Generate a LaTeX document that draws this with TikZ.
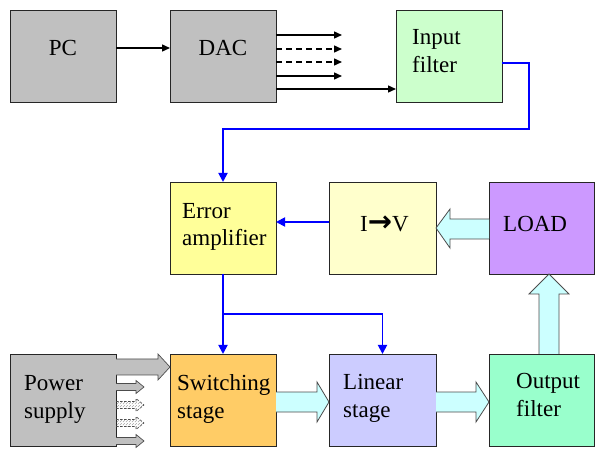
\documentclass[tikz,border=0pt]{standalone}
\usepackage{fontspec}
\setmainfont{Liberation Serif}
\newfontfamily\arrowglyph{DejaVu Sans Bold}
\usetikzlibrary{arrows.meta,calc,patterns}
\definecolor{boxgray}{HTML}{C0C0C0}
\definecolor{inputgreen}{HTML}{CCFFCC}
\definecolor{erryellow}{HTML}{FFFF99}
\definecolor{ivyellow}{HTML}{FFFFCC}
\definecolor{loadpurple}{HTML}{CC99FF}
\definecolor{switchorange}{HTML}{FFCC66}
\definecolor{linlavender}{HTML}{CCCCFF}
\definecolor{outmint}{HTML}{99FFCC}
\definecolor{flowcyan}{HTML}{CCFFFF}
\definecolor{linkblue}{HTML}{0000FF}

% rightward block arrow: tail, tip, half shaft, half head, head length
\newcommand\blockarrowh[6][]{%
  \draw[blk,#1] ($(#2)+(0,-#4)$) -- ($(#3)+(-#6,-#4)$) -- ($(#3)+(-#6,-#5)$) -- (#3)
    -- ($(#3)+(-#6,#5)$) -- ($(#3)+(-#6,#4)$) -- ($(#2)+(0,#4)$);}

\begin{document}
\begin{tikzpicture}[x=1pt,y=-1pt,
  box/.style={draw=black!85, line width=0.8pt, minimum width=106pt, minimum height=92pt,
    inner sep=0pt, outer sep=0pt},
  lbl/.style={font=\fontsize{23}{27.5}\selectfont, inner sep=0pt, align=left},
  blk/.style={draw=black!70, fill=flowcyan, line width=0.8pt, line join=miter},
  psarrow/.style={draw=black!70, fill=boxgray, line width=0.7pt, line join=miter},
  hatcharrow/.style={draw=black!70, dashed, dash pattern=on 2.5pt off 1.5pt,
    pattern=north east lines, pattern color=black!35, line width=0.6pt},
  dacline/.style={draw=black, line width=1.4pt, -{Triangle[length=8pt,width=7pt]}},
  blueline/.style={draw=linkblue, line width=1.8pt, line join=miter,
    -{Triangle[length=9pt,width=9pt]}},
]
\useasboundingbox (0,0) rectangle (595,449);

% ---- blocks ----
\node[box, fill=boxgray]      (pc)   at (63,56)    {};
\node[box, fill=boxgray]      (dac)  at (223,56)   {};
\node[box, fill=inputgreen]   (inf)  at (449,56)   {};
\node[box, fill=erryellow]    (err)  at (223,228)  {};
\node[box, fill=ivyellow, minimum width=107pt] (iv) at (382.5,228) {};
\node[box, fill=loadpurple, minimum width=105pt] (load) at (541.5,228) {};
\node[box, fill=boxgray]      (pwr)  at (63,400)   {};
\node[box, fill=switchorange] (sw)   at (223,400)  {};
\node[box, fill=linlavender, minimum width=107pt] (lin) at (382.5,400) {};
\node[box, fill=outmint, minimum width=105pt] (out) at (541.5,400) {};

% ---- labels ----
\node[lbl] (pct)  at ($(pc.center)+(0,-8)$)  {PC};
\node[lbl] (dact) at ($(dac.center)+(0,-8)$) {DAC};
\node[lbl, anchor=north west] (inft) at ($(inf.north west)+(16,19.5)$) {Input\\filter};
\node[lbl, anchor=north west] (errt) at ($(err.north west)+(12,21)$) {Error\\amplifier};
\node[lbl] (ivt) at ($(iv.center)+(2,-4)$) {I{\arrowglyph\fontsize{29}{30}\selectfont →}V};
\node[lbl, anchor=west] (loadt) at ($(load.west)+(14,-4)$) {LOAD};
\node[lbl, anchor=north west] (pwrt) at ($(pwr.north west)+(14,21.5)$) {Power\\supply};
\node[lbl, anchor=north west] (swt)  at ($(sw.north west)+(7,20.5)$) {Switching\\stage};
\node[lbl, anchor=north west] (lint) at ($(lin.north west)+(14,20.5)$) {Linear\\stage};
\node[lbl, anchor=north west] (outt) at ($(out.north west)+(27,19.5)$) {Output\\filter};

% ---- digital path ----
\draw[dacline] ($(pc.east)+(0,-8)$) -- ($(dac.west)+(0,-8)$);
\coordinate (d1) at ($(dac.east)+(66,-21)$);
\coordinate (d2) at ($(dac.east)+(66,-7)$);
\coordinate (d3) at ($(dac.east)+(66,6)$);
\coordinate (d4) at ($(dac.east)+(66,20)$);
\draw[dacline] (dac.east |- d1) -- (d1);
\draw[dacline, dash pattern=on 6pt off 4pt] (dac.east |- d2) -- (d2);
\draw[dacline, dash pattern=on 6pt off 4pt] (dac.east |- d3) -- (d3);
\draw[dacline] (dac.east |- d4) -- (d4);
\draw[dacline] ($(dac.east)+(0,33)$) -- ($(inf.west)+(0,33)$);

% ---- control loop ----
\draw[blueline] ($(inf.east)+(0,7)$) -| ($(inf.east)+(27,73)$) -| (err.north);
\draw[blueline] ($(iv.west)+(0,-6)$) -- ($(err.east)+(0,-6)$);
\draw[blueline] (err.south) -- (sw.north);
\draw[blueline] ($(err.south)+(0,40)$) -| (lin.north);

% ---- power flow ----
\blockarrowh{$(sw.east)+(0,2)$}{$(lin.west)+(0,2)$}{10}{20}{12}
\blockarrowh{$(lin.east)+(0,2)$}{$(out.west)+(0,2)$}{10}{20}{13}
% load current sensed back into the I->V converter
\draw[blk] ($(load.west)+(0,-9)$) -- ($(iv.east)+(14,-9)$) -- ($(iv.east)+(14,-19)$)
  -- (iv.east) -- ($(iv.east)+(14,20)$) -- ($(iv.east)+(14,11)$) -- ($(load.west)+(0,11)$);
% output filter feeding the load
\draw[blk] ($(out.north)+(-2.5,0)$) -- ($(load.south)+(-2.5,20)$) -- ($(load.south)+(-12.5,20)$)
  -- ($(load.south)+(7.5,0)$) -- ($(load.south)+(27.5,20)$) -- ($(load.south)+(17.5,20)$)
  -- ($(out.north)+(17.5,0)$);

% ---- supply rails ----
\coordinate (ps0) at ($(sw.west)+(0,-33)$);
\coordinate (ps1) at ($(pwr.east)+(28,-13)$);
\coordinate (ps2) at ($(pwr.east)+(28,5)$);
\coordinate (ps3) at ($(pwr.east)+(28,23)$);
\coordinate (ps4) at ($(pwr.east)+(28,41)$);
\blockarrowh[psarrow]{pwr.east |- ps0}{ps0}{8}{13}{12}
\blockarrowh[psarrow]{pwr.east |- ps1}{ps1}{3.5}{6.5}{8}
\blockarrowh[hatcharrow]{pwr.east |- ps2}{ps2}{3.5}{6.5}{8}
\blockarrowh[hatcharrow]{pwr.east |- ps3}{ps3}{3.5}{6.5}{8}
\blockarrowh[psarrow]{pwr.east |- ps4}{ps4}{3.5}{6.5}{8}
\end{tikzpicture}
\end{document}
